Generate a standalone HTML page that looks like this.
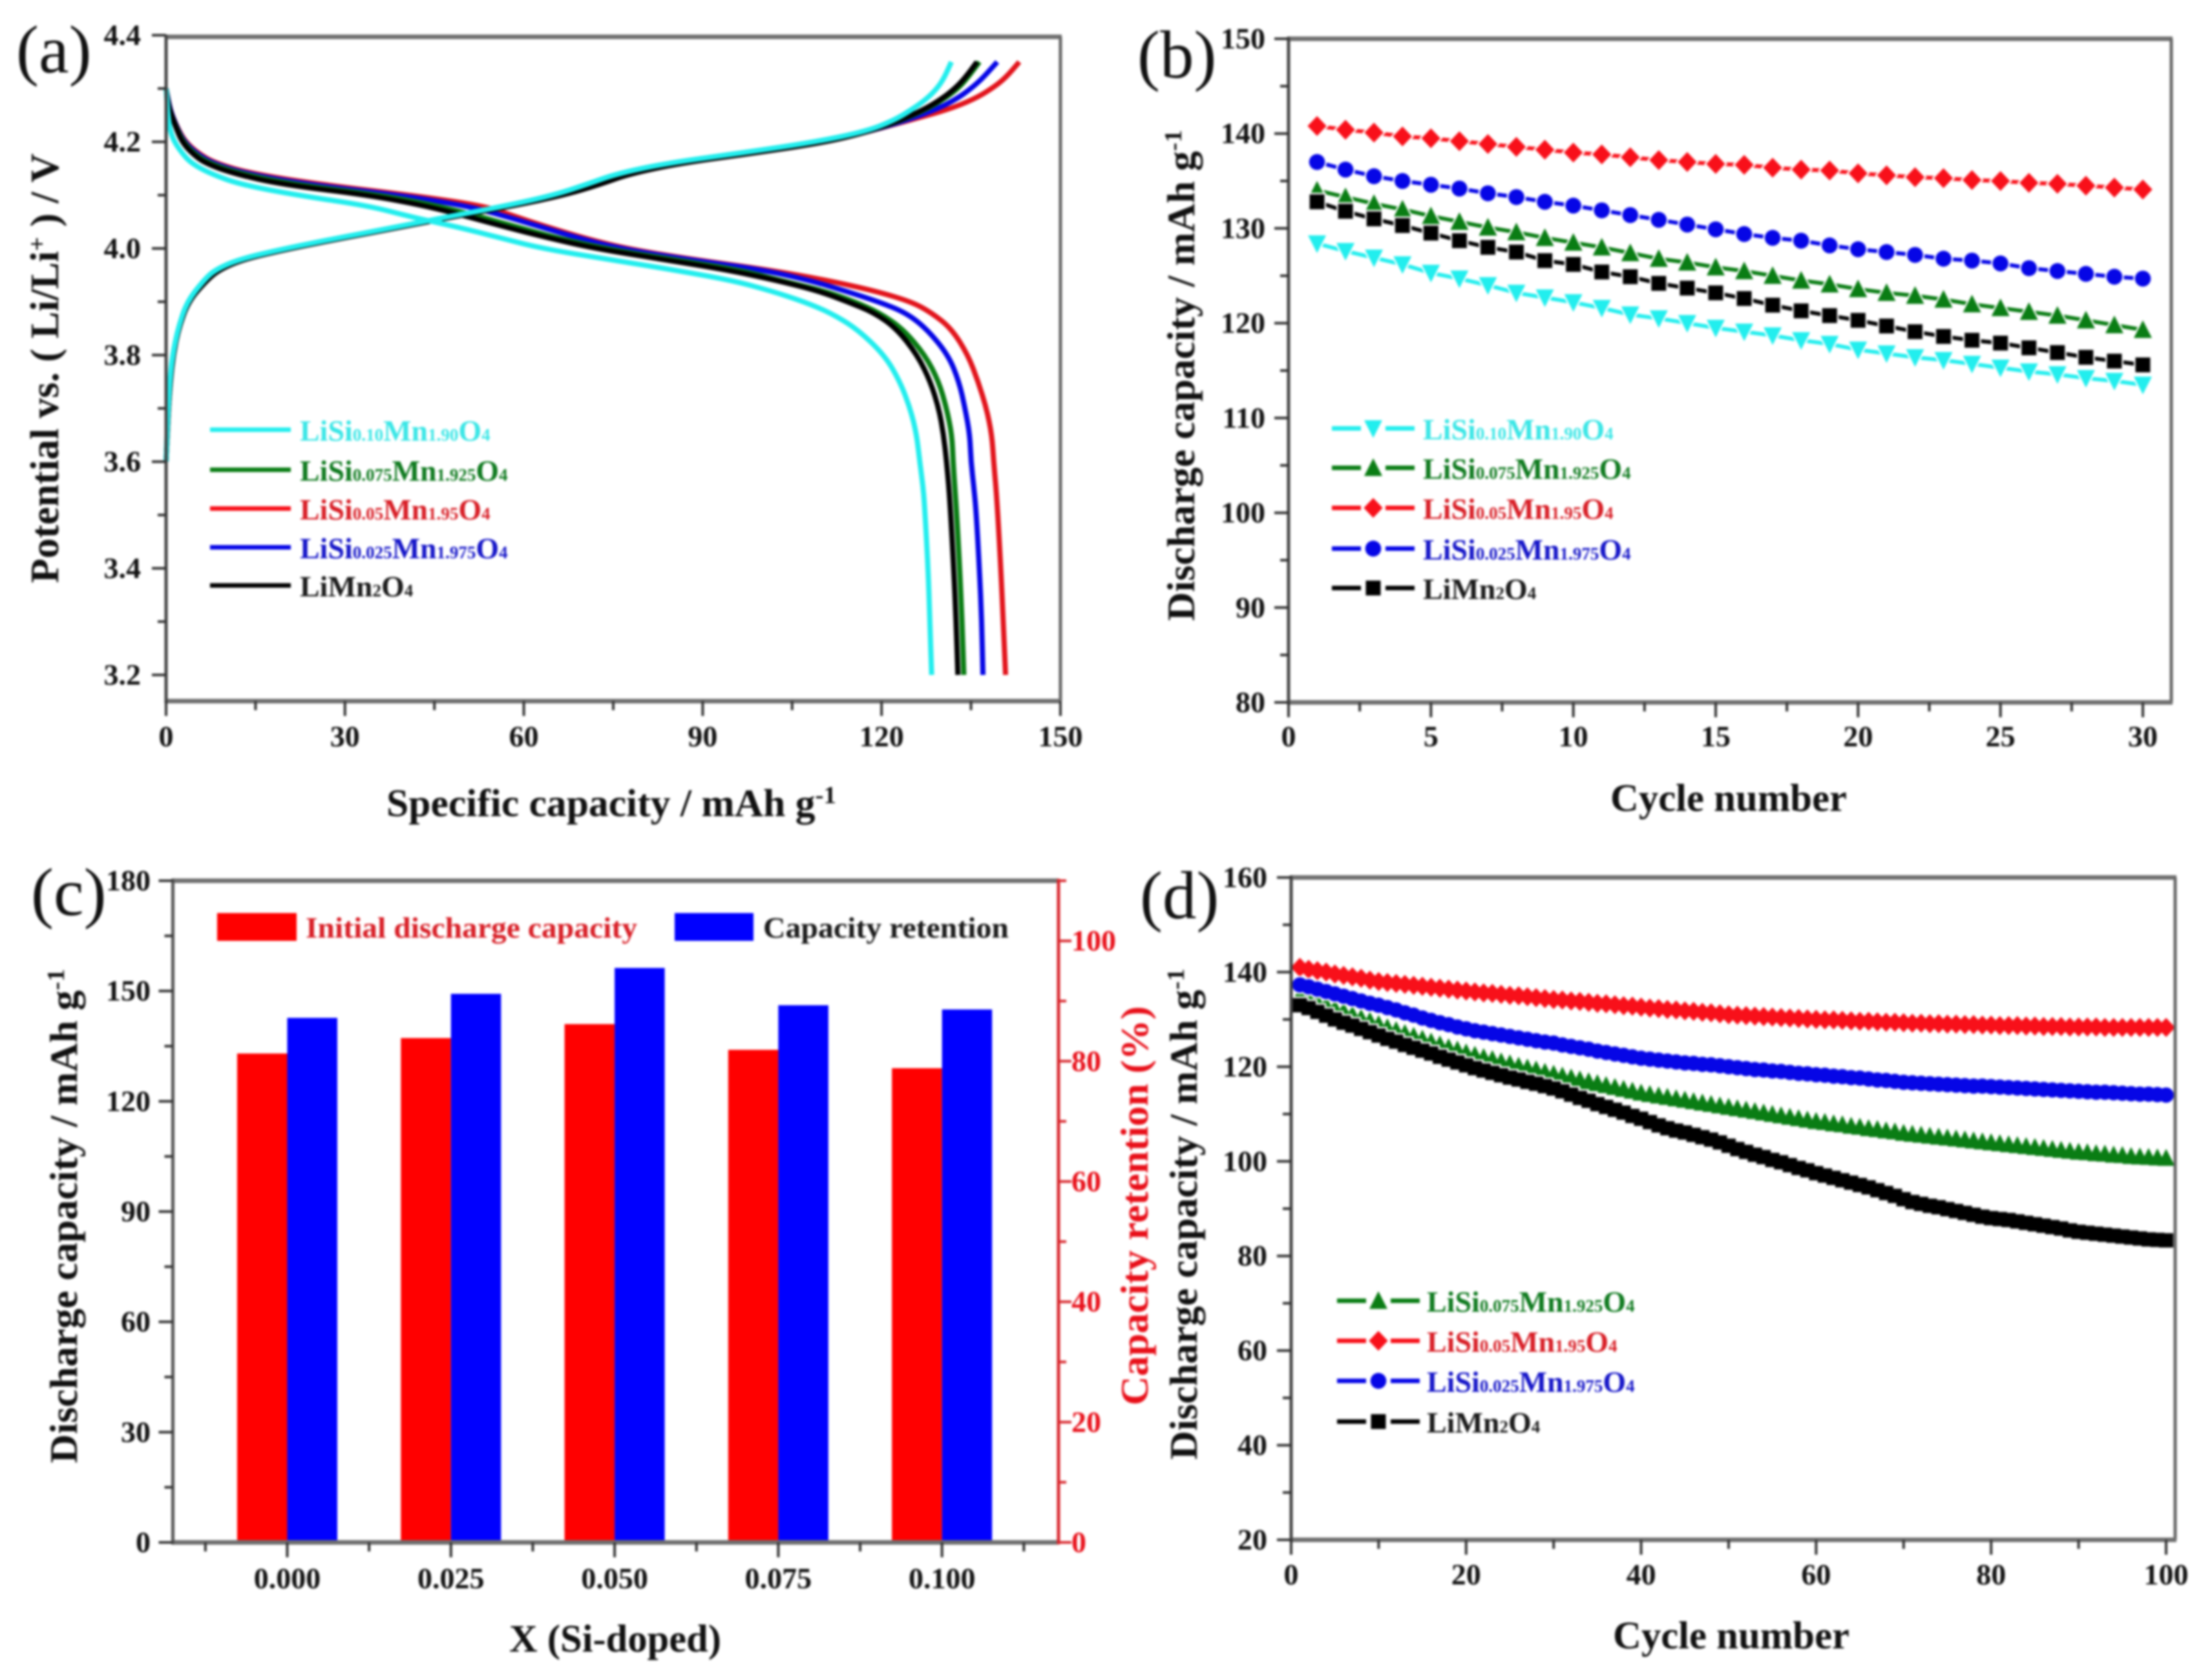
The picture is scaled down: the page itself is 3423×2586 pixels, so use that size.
<!DOCTYPE html>
<html lang="en">
<head>
<meta charset="utf-8">
<title>LiSixMn2-xO4 electrochemical performance</title>
<style>
html,body{margin:0;padding:0;background:#fff;width:3423px;height:2586px;overflow:hidden}
svg{display:block;filter:blur(1.8px)}
text{font-family:"Liberation Serif",serif;font-weight:700}
.lg{font-size:46px}
.ti{font-size:60px;fill:#111}
.pl{font-size:105px;font-weight:400;fill:#111}
</style>
</head>
<body>
<svg id="fig" xmlns="http://www.w3.org/2000/svg" width="3423" height="2586" viewBox="0 0 3423 2586">
<rect x="0" y="0" width="3423" height="2586" fill="#fff"/>

<g id="panelA"></g>
<g id="panelB"></g>
<g id="panelC"></g>
<g id="panelD"></g>

<text class="pl" x="25" y="112">(a)</text>
<text class="pl" x="1760" y="120">(b)</text>
<text class="pl" x="48" y="1416">(c)</text>
<text class="pl" x="1764" y="1421">(d)</text>

<text class="ti" x="946" y="1263" text-anchor="middle" textLength="696" lengthAdjust="spacingAndGlyphs">Specific capacity / mAh g<tspan font-size="38" dy="-20">-1</tspan></text>
<text class="ti" transform="translate(90,570) rotate(-90)" text-anchor="middle" textLength="665" lengthAdjust="spacingAndGlyphs" style="font-size:62px">Potential vs. ( Li/Li<tspan font-size="38" dy="-20">+</tspan><tspan dy="20"> ) / V</tspan></text>

<text class="ti" x="2675" y="1255" text-anchor="middle" textLength="366" lengthAdjust="spacingAndGlyphs">Cycle number</text>
<text class="ti" transform="translate(1848,581) rotate(-90)" text-anchor="middle" textLength="760" lengthAdjust="spacingAndGlyphs">Discharge capacity / mAh g<tspan font-size="38" dy="-20">-1</tspan></text>

<text class="ti" x="952" y="2556" text-anchor="middle" textLength="328" lengthAdjust="spacingAndGlyphs">X (Si-doped)</text>
<text class="ti" transform="translate(119,1882) rotate(-90)" text-anchor="middle" textLength="765" lengthAdjust="spacingAndGlyphs">Discharge capacity / mAh g<tspan font-size="38" dy="-20">-1</tspan></text>
<text class="ti" transform="translate(1776,1866) rotate(-90)" text-anchor="middle" textLength="618" lengthAdjust="spacingAndGlyphs" style="fill:#e8101a">Capacity retention (%)</text>

<text class="ti" x="2679" y="2551" text-anchor="middle" textLength="366" lengthAdjust="spacingAndGlyphs">Cycle number</text>
<text class="ti" transform="translate(1852,1879) rotate(-90)" text-anchor="middle" textLength="760" lengthAdjust="spacingAndGlyphs">Discharge capacity / mAh g<tspan font-size="38" dy="-20">-1</tspan></text>

<g>
<text class="lg" x="464" y="682" fill="#3ae6e6">LiSi<tspan font-size="27">0.10</tspan>Mn<tspan font-size="27">1.90</tspan>O<tspan font-size="27">4</tspan></text>
<text class="lg" x="464" y="744" fill="#0f7a1f">LiSi<tspan font-size="27">0.075</tspan>Mn<tspan font-size="27">1.925</tspan>O<tspan font-size="27">4</tspan></text>
<text class="lg" x="464" y="804" fill="#d81e26">LiSi<tspan font-size="27">0.05</tspan>Mn<tspan font-size="27">1.95</tspan>O<tspan font-size="27">4</tspan></text>
<text class="lg" x="464" y="864" fill="#1616c8">LiSi<tspan font-size="27">0.025</tspan>Mn<tspan font-size="27">1.975</tspan>O<tspan font-size="27">4</tspan></text>
<text class="lg" x="464" y="923" fill="#1a1a1a">LiMn<tspan font-size="27">2</tspan>O<tspan font-size="27">4</tspan></text>
</g>
<g>
<text class="lg" x="2202" y="680" fill="#3ae6e6">LiSi<tspan font-size="27">0.10</tspan>Mn<tspan font-size="27">1.90</tspan>O<tspan font-size="27">4</tspan></text>
<text class="lg" x="2202" y="741" fill="#0f7a1f">LiSi<tspan font-size="27">0.075</tspan>Mn<tspan font-size="27">1.925</tspan>O<tspan font-size="27">4</tspan></text>
<text class="lg" x="2202" y="803" fill="#d81e26">LiSi<tspan font-size="27">0.05</tspan>Mn<tspan font-size="27">1.95</tspan>O<tspan font-size="27">4</tspan></text>
<text class="lg" x="2202" y="866" fill="#1616c8">LiSi<tspan font-size="27">0.025</tspan>Mn<tspan font-size="27">1.975</tspan>O<tspan font-size="27">4</tspan></text>
<text class="lg" x="2202" y="927" fill="#1a1a1a">LiMn<tspan font-size="27">2</tspan>O<tspan font-size="27">4</tspan></text>
</g>
<g>
<rect x="336" y="1413" width="123" height="43" fill="#ff0000"/>
<rect x="1044" y="1413" width="122" height="43" fill="#0000ff"/>
<text class="lg" x="473" y="1451" fill="#d81e26" textLength="513" lengthAdjust="spacingAndGlyphs">Initial discharge capacity</text>
<text class="lg" x="1181" y="1451" fill="#1a1a1a" textLength="380" lengthAdjust="spacingAndGlyphs">Capacity retention</text>
</g>
<g>
<text class="lg" x="2208" y="2030" fill="#0f7a1f">LiSi<tspan font-size="27">0.075</tspan>Mn<tspan font-size="27">1.925</tspan>O<tspan font-size="27">4</tspan></text>
<text class="lg" x="2208" y="2092" fill="#d81e26">LiSi<tspan font-size="27">0.05</tspan>Mn<tspan font-size="27">1.95</tspan>O<tspan font-size="27">4</tspan></text>
<text class="lg" x="2208" y="2154" fill="#1616c8">LiSi<tspan font-size="27">0.025</tspan>Mn<tspan font-size="27">1.975</tspan>O<tspan font-size="27">4</tspan></text>
<text class="lg" x="2208" y="2217" fill="#1a1a1a">LiMn<tspan font-size="27">2</tspan>O<tspan font-size="27">4</tspan></text>
</g>
</svg>

<script>
/* ---------- Panel (a): voltage profiles ---------- */
const dischargeVoltage = [4.30,4.27,4.25,4.22,4.20,4.18,4.16,4.14,4.12,4.10,4.08,4.06,4.04,4.02,4.00,3.98,3.96,3.94,3.92,3.90,3.88,3.85,3.80,3.75,3.70,3.65,3.60,3.55,3.50,3.40,3.30,3.20];
const dischargeQBlack = [0,0.4,0.9,1.9,2.7,4.2,6.5,11.5,19.5,34,43.5,50.5,57,64,72,83,94,102.5,109.5,114.3,118.7,122.5,126,128.2,129.6,130.4,130.9,131.3,131.6,132.1,132.5,132.8];
const dischargeQBlue = [0,0.5,1,2.1,3.1,4.9,7.7,13.5,24,39,50.5,57,63,69,76,87,100,108,114,119.5,124,127.5,131.2,133,134,134.8,135,135.5,135.9,136.4,136.8,137];
const dischargeQRed = [0,0.5,1,2.2,3.3,5.2,8.2,14.5,26,41,53.4,58.5,64,70,77,88,101,111,119,125,128.3,131.7,134.5,136.2,137.6,138.5,138.8,139.2,139.5,140,140.4,140.8];
const dischargeQGreen = [0,0.4,0.9,2,2.9,4.5,7.1,12.5,21.5,36,45.5,52.5,59,65.5,73.5,84.5,96,103,110.5,115.5,119.5,123.5,127.3,129.6,130.9,131.8,132,132.3,132.6,133.1,133.5,133.8];
const dischargeQCyan = [0,0.2,0.3,0.7,1.4,2.6,4.2,7.5,12.5,22,34,40.8,49,56,63,74,85,95,101.6,107,111.3,115.8,120.5,123.1,124.8,125.9,126.4,127,127.3,127.8,128.1,128.4];

const chargeVoltage = [3.60,3.65,3.70,3.75,3.80,3.85,3.90,3.94,3.96,3.98,4.00,4.02,4.04,4.06,4.08,4.10,4.12,4.14,4.16,4.18,4.20,4.22,4.24,4.26,4.28,4.30,4.32,4.35];
const chargeQBlack = [0,0.2,0.4,0.7,1.2,2.1,3.7,6.8,8.9,13,20.8,29.8,39.3,48.4,58.2,66.7,72.7,77.7,86.2,99.2,111,118,123,127,130,132.3,134,136];
const chargeQBlue = [0,0.2,0.4,0.7,1.2,2.1,3.7,6.7,8.8,12.9,20.7,29.7,39.2,48.3,58,66.6,72.6,77.6,86.1,99.1,110.9,118,124,129,132.5,135,137,139.4];
const chargeQRed = [0,0.2,0.4,0.7,1.2,2.1,3.7,6.7,8.8,12.9,20.7,29.7,39.2,48.3,58,66.6,72.6,77.6,86.1,99.1,110.9,118,124.5,131,135.5,138.5,140.8,143.1];
const chargeQGreen = [0,0.2,0.4,0.7,1.2,2.1,3.7,6.7,8.8,12.9,20.7,29.7,39.2,48.3,58,66.6,72.6,77.6,86.1,99.1,110.9,118,123.2,127.3,130.4,132.8,134.4,136.4];
const chargeQCyan = [0,0.15,0.35,0.6,1.1,2,3.5,6.3,8.2,12.3,20,29,38.5,47.5,57,65,70.5,75.5,84,97,109,117.5,122,125,127.5,129.3,130.5,131.7];

/* ---------- Panel (b): 30 cycles ---------- */
const cyclesB = [1,2,3,4,5,6,7,8,9,10,11,12,13,14,15,16,17,18,19,20,21,22,23,24,25,26,27,28,29,30];
const capBCyan = [128.4,127.6,126.9,126.2,125.3,124.7,124,123.2,122.7,122.2,121.6,120.9,120.5,120,119.5,119.1,118.7,118.2,117.8,117.2,116.8,116.4,116.1,115.7,115.3,114.9,114.6,114.2,113.9,113.5];
const capBGreen = [134,133.3,132.6,132,131.3,130.7,130.1,129.6,129,128.5,128,127.4,126.8,126.4,125.9,125.5,125,124.5,124.1,123.6,123.2,122.9,122.5,122,121.6,121.2,120.8,120.3,119.8,119.3];
const capBRed = [140.8,140.4,140.1,139.7,139.5,139.2,138.9,138.6,138.3,138,137.8,137.5,137.2,137,136.8,136.7,136.4,136.2,136.1,135.8,135.6,135.4,135.3,135.1,135,134.8,134.7,134.5,134.3,134.1];
const capBBlue = [137,136.2,135.5,135,134.6,134.2,133.7,133.3,132.8,132.4,131.9,131.4,130.9,130.4,129.9,129.4,129,128.7,128.2,127.8,127.5,127.2,126.8,126.6,126.3,125.8,125.5,125.2,124.9,124.7];
const capBBlack = [132.8,131.8,131,130.3,129.5,128.7,128,127.5,126.6,126.2,125.4,124.9,124.2,123.7,123.2,122.6,121.9,121.3,120.8,120.3,119.7,119.1,118.6,118.2,117.9,117.4,116.9,116.4,116,115.6];

/* ---------- Panel (c): bars ---------- */
const categoriesC = ["0.000","0.025","0.050","0.075","0.100"];
const categoryValuesC = [0,0.025,0.05,0.075,0.1];
const initialCapacity = [133,137.2,141,134,129];
const capacityRetention = [87.2,91.2,95.5,89.3,88.6];

/* ---------- Panel (d): 100 cycles ---------- */
const capDBlack = [133,132.4,131.6,130.8,130.0,129.3,128.7,128.0,127.3,126.6,
125.9,125.3,124.6,124.0,123.4,122.8,122.1,121.5,120.9,120.3,
119.7,119.2,118.7,118.2,117.7,117.3,116.8,116.4,115.9,115.4,
114.8,114.1,113.4,112.8,112.1,111.5,110.9,110.3,109.6,109.0,
108.3,107.6,107.0,106.5,106.1,105.6,105.1,104.6,104.0,103.3,
102.6,102.0,101.4,100.9,100.3,99.8,99.2,98.6,98.1,97.5,
97.0,96.5,96.0,95.5,95.0,94.5,93.9,93.3,92.7,92.0,
91.4,91.0,90.6,90.3,89.9,89.5,89.1,88.7,88.3,88.0,
87.8,87.6,87.3,87.0,86.7,86.4,86.1,85.8,85.4,85.1,
84.9,84.7,84.5,84.3,84.1,83.9,83.7,83.5,83.4,83.3];
const capDGreen = [135,134.4,133.7,133.0,132.3,131.7,131.0,130.3,129.7,129.0,
128.3,127.7,127.1,126.5,125.9,125.3,124.7,124.1,123.6,123.0,
122.5,122.0,121.6,121.1,120.7,120.2,119.8,119.4,118.9,118.5,
118.1,117.7,117.3,116.9,116.5,116.1,115.7,115.3,114.9,114.5,
114.2,113.9,113.6,113.3,113.0,112.7,112.4,112.1,111.8,111.5,
111.2,110.9,110.6,110.3,110.0,109.7,109.4,109.1,108.8,108.5,
108.3,108.0,107.8,107.5,107.3,107.0,106.8,106.5,106.3,106.0,
105.8,105.6,105.4,105.2,105.0,104.8,104.6,104.4,104.2,104.0,
103.8,103.6,103.4,103.2,103.0,102.8,102.6,102.4,102.2,102.0,
101.9,101.7,101.6,101.4,101.3,101.1,101.0,100.9,100.8,100.7];
const capDBlue = [137.3,136.9,136.4,135.9,135.4,134.9,134.4,133.9,133.4,133.0,
132.5,132.0,131.4,130.9,130.3,129.8,129.3,128.9,128.4,128.0,
127.6,127.3,127.0,126.7,126.4,126.1,125.8,125.5,125.2,125.0,
124.6,124.3,124.0,123.7,123.3,123.0,122.7,122.4,122.1,121.8,
121.6,121.4,121.2,121.0,120.8,120.7,120.5,120.4,120.2,120.0,
119.8,119.6,119.4,119.3,119.1,119.0,118.8,118.6,118.5,118.3,
118.2,118.0,117.9,117.7,117.6,117.4,117.2,117.1,116.9,116.7,
116.6,116.5,116.4,116.3,116.2,116.1,116.0,115.9,115.9,115.8,
115.7,115.6,115.5,115.4,115.3,115.2,115.1,115.0,114.9,114.8,
114.7,114.6,114.6,114.5,114.4,114.3,114.2,114.2,114.1,114.0];
const capDRed = [141,140.6,140.3,140.0,139.6,139.3,139.0,138.7,138.3,138.0,
137.8,137.6,137.4,137.2,137.0,136.8,136.6,136.4,136.2,136.0,
135.8,135.6,135.5,135.3,135.1,135.0,134.8,134.6,134.4,134.2,
134.1,133.9,133.8,133.6,133.4,133.3,133.1,132.9,132.8,132.6,
132.4,132.3,132.1,132.0,131.8,131.7,131.5,131.4,131.2,131.0,
130.9,130.8,130.7,130.6,130.5,130.4,130.3,130.2,130.1,130.0,
129.9,129.9,129.8,129.7,129.6,129.6,129.5,129.4,129.4,129.3,
129.2,129.2,129.1,129.1,129.0,129.0,128.9,128.9,128.8,128.8,
128.7,128.7,128.7,128.6,128.6,128.5,128.5,128.5,128.4,128.4,
128.4,128.4,128.3,128.3,128.3,128.3,128.3,128.3,128.3,128.3];

/* ---------- Tick labels ---------- */
const ticksAX = [0,30,60,90,120,150];
const ticksAY = [3.2,3.4,3.6,3.8,4.0,4.2,4.4];
const ticksBX = [0,5,10,15,20,25,30];
const ticksBY = [80,90,100,110,120,130,140,150];
const ticksCY = [0,30,60,90,120,150,180];
const ticksCR = [0,20,40,60,80,100];
const ticksDX = [0,20,40,60,80,100];
const ticksDY = [20,40,60,80,100,120,140,160];

/* ---------- Drawing ---------- */
const NS = 'http://www.w3.org/2000/svg';
function mk(tag, attrs, parent) {
  const el = document.createElementNS(NS, tag);
  for (const k in attrs) el.setAttribute(k, attrs[k]);
  parent.appendChild(el);
  return el;
}
function scale(d0, d1, r0, r1) { return v => r0 + (v - d0) * (r1 - r0) / (d1 - d0); }

function frame(g, L, T, R, B) {
  const top = mk('line', {x1:L-2,y1:T,x2:R+2,y2:T,stroke:'#6f6f6f','stroke-width':7}, g);
  
  
  const right = mk('line', {x1:R,y1:T,x2:R,y2:B,stroke:'#666','stroke-width':5}, g);
  
  
  const bottom = mk('line', {x1:L-2,y1:B,x2:R+2,y2:B,stroke:'#6f6f6f','stroke-width':7}, g);
  
  
  const left = mk('line', {x1:L,y1:T-3,x2:L,y2:B+3,stroke:'#444','stroke-width':5}, g);
  
  
}

function xTicks(g, sx, B, labels, minors, labelY, fmt) {
  labels.forEach(v => {
    const t = mk('line', {x1:sx(v),y1:B,x2:sx(v),y2:B+23,stroke:'#333','stroke-width':4}, g);
    
    
    const lb = mk('text', {x:sx(v),y:labelY,'text-anchor':'middle','font-size':46,fill:'#111'}, g);
    
    
    lb.textContent = fmt ? fmt(v) : v;
  });
  minors.forEach(v => {
    const t = mk('line', {x1:sx(v),y1:B,x2:sx(v),y2:B+14,stroke:'#333','stroke-width':4}, g);
    
    
  });
}
function yTicks(g, sy, L, labels, minors, anchorX, fmt) {
  labels.forEach(v => {
    const t = mk('line', {x1:L-22,y1:sy(v),x2:L,y2:sy(v),stroke:'#333','stroke-width':4}, g);
    
    
    const lb = mk('text', {x:anchorX,y:sy(v)+15,'text-anchor':'end','font-size':46,fill:'#111'}, g);
    
    
    lb.textContent = fmt ? fmt(v) : v;
  });
  minors.forEach(v => {
    const t = mk('line', {x1:L-13,y1:sy(v),x2:L,y2:sy(v),stroke:'#333','stroke-width':4}, g);
    
    
  });
}
function midpoints(arr) {
  const out = [];
  for (let i = 0; i < arr.length - 1; i++) out.push((arr[i] + arr[i + 1]) / 2);
  return out;
}

function polyPoints(xs, ys, sx, sy) { return xs.map((x, i) => sx(x).toFixed(1) + ',' + sy(ys[i]).toFixed(1)).join(' '); }

function smoothPath(xs, ys, sx, sy) {
  const p = xs.map((x, i) => [sx(x), sy(ys[i])]);
  let d = 'M' + p[0][0].toFixed(1) + ' ' + p[0][1].toFixed(1) + ' L' + ((p[0][0]+p[1][0])/2).toFixed(1) + ' ' + ((p[0][1]+p[1][1])/2).toFixed(1);
  for (let i = 1; i < p.length - 1; i++) {
    const mx = (p[i][0] + p[i+1][0]) / 2, my = (p[i][1] + p[i+1][1]) / 2;
    d += ' Q' + p[i][0].toFixed(1) + ' ' + p[i][1].toFixed(1) + ' ' + mx.toFixed(1) + ' ' + my.toFixed(1);
  }
  d += ' L' + p[p.length-1][0].toFixed(1) + ' ' + p[p.length-1][1].toFixed(1);
  return d;
}

function marker(g, kind, cx, cy, r, color) {
  let el;
  if (kind === 'circle') el = mk('circle', {cx:cx,cy:cy,r:r*0.88,fill:color}, g);
  else if (kind === 'square') el = mk('rect', {x:cx-r*0.82,y:cy-r*0.82,width:r*1.64,height:r*1.64,fill:color}, g);
  else {
    let pts;
    if (kind === 'diamond') pts = [[0,-r*1.1],[r*1.05,0],[0,r*1.1],[-r*1.05,0]];
    if (kind === 'up') pts = [[0,-r*1.05],[r,r*0.9],[-r,r*0.9]];
    if (kind === 'down') pts = [[0,r*1.05],[r,-r*0.9],[-r,-r*0.9]];
    el = mk('polygon', {points:pts.map(p => (cx+p[0]).toFixed(1)+','+(cy+p[1]).toFixed(1)).join(' '),fill:color}, g);
  }
  return el;
}

function legendSample(g, x0, x1, y, kind, color) {
  const mid = (x0 + x1) / 2;
  if (kind) {
    const a = mk('line', {x1:x0,y1:y,x2:mid-19,y2:y,stroke:color,'stroke-width':7}, g);
    
    
    const b = mk('line', {x1:mid+19,y1:y,x2:x1,y2:y,stroke:color,'stroke-width':7}, g);
    
    
    const m = marker(g, kind, mid, y, 14, color);
    
    
  } else {
    const a = mk('line', {x1:x0,y1:y,x2:x1,y2:y,stroke:color,'stroke-width':7}, g);
    
    
  }
}

function drawSeries(g, s, xs, sx, sy, r) {
  const pl = mk('polyline', {points:polyPoints(xs, s[2], sx, sy),fill:'none',stroke:s[1],'stroke-width':6}, g);
  
  
  xs.forEach((c, i) => {
    const h = marker(g, s[3], sx(c), sy(s[2][i]), r, '#fff');
    h.setAttribute('stroke', '#fff');
    h.setAttribute('stroke-width', 5);
    
    
  });
  xs.forEach((c, i) => {
    const m = marker(g, s[3], sx(c), sy(s[2][i]), r, s[1]);
    
    
  });
}

const CYAN = '#22eeee', GREEN = '#0a7d14', RED = '#f8101a', BLUE = '#0606e6', BLACK = '#000';

/* Panel A */
(function () {
  const g = document.getElementById('panelA');
  const L = 257, R = 1641, T = 57, B = 1085;
  const sx = scale(0, 150, L, 1641);
  const sy = scale(4.0, 4.2, 384.5, 219.5);
  const curves = [
    ['red', '#e2141c', dischargeQRed, chargeQRed],
    ['blue', BLUE, dischargeQBlue, chargeQBlue],
    ['green', GREEN, dischargeQGreen, chargeQGreen],
    ['black', BLACK, dischargeQBlack, chargeQBlack],
    ['cyan', CYAN, dischargeQCyan, chargeQCyan]
  ];
  curves.forEach(c => {
    const d = mk('path', {d:smoothPath(c[2], dischargeVoltage, sx, sy),fill:'none',stroke:c[1],'stroke-width':8,'stroke-linejoin':'round'}, g);
    
    
    const q = mk('path', {d:smoothPath(c[3], chargeVoltage, sx, sy),fill:'none',stroke:c[1],'stroke-width':8,'stroke-linejoin':'round'}, g);
    
    
  });
  frame(g, L, T, R, B);
  xTicks(g, sx, B, ticksAX, midpoints(ticksAX), 1155);
  yTicks(g, sy, L, ticksAY, midpoints(ticksAY), 218, v => v.toFixed(1));
  const lg = [[665,CYAN],[727,GREEN],[787,RED],[847,BLUE],[906,BLACK]];
  lg.forEach(e => legendSample(g, 325, 450, e[0], null, e[1]));
})();

/* Panel B */
(function () {
  const g = document.getElementById('panelB');
  const L = 1994, R = 3360, T = 60, B = 1087;
  const sx = scale(0, 30, L, 3316);
  const sy = scale(80, 150, B, T);
  const series = [
    ['cyan', CYAN, capBCyan, 'down'],
    ['green', GREEN, capBGreen, 'up'],
    ['red', RED, capBRed, 'diamond'],
    ['blue', BLUE, capBBlue, 'circle'],
    ['black', BLACK, capBBlack, 'square']
  ];
  series.forEach(s => drawSeries(g, s, cyclesB, sx, sy, 14));
  frame(g, L, T, R, B);
  xTicks(g, sx, B, ticksBX, midpoints(ticksBX), 1155);
  yTicks(g, sy, L, ticksBY, midpoints(ticksBY), 1958);
  const lg = [[663,CYAN,'down'],[724,GREEN,'up'],[786,RED,'diamond'],[849,BLUE,'circle'],[910,BLACK,'square']];
  lg.forEach(e => legendSample(g, 2061, 2189, e[0], e[2], e[1]));
})();

/* Panel C */
(function () {
  const g = document.getElementById('panelC');
  const L = 267.5, R = 1638, T = 1363, B = 2387;
  const sx = scale(0, 0.025, 444.5, 697.8);
  const sy = scale(0, 180, B, T);
  const syR = scale(0, 110, B, T);
  const barW = 77.5;
  categoryValuesC.forEach((v, i) => {
    const r = mk('rect', {x:sx(v)-barW,y:sy(initialCapacity[i]),width:barW,height:B-sy(initialCapacity[i]),fill:'#ff0000'}, g);
    
    
    const b = mk('rect', {x:sx(v),y:syR(capacityRetention[i]),width:barW,height:B-syR(capacityRetention[i]),fill:'#0000ff'}, g);
    
    
  });
  const top = mk('line', {x1:L-2,y1:T,x2:R,y2:T,stroke:'#6f6f6f','stroke-width':7}, g);
  
  
  const bottom = mk('line', {x1:L-2,y1:B,x2:R,y2:B,stroke:'#6f6f6f','stroke-width':7}, g);
  
  
  const left = mk('line', {x1:L,y1:T-3,x2:L,y2:B+3,stroke:'#555','stroke-width':5}, g);
  
  
  const right = mk('line', {x1:R,y1:T-3,x2:R,y2:B+3,stroke:'#d8262c','stroke-width':5}, g);
  
  
  xTicks(g, sx, B, categoryValuesC, [-0.0125,0.0125,0.0375,0.0625,0.0875,0.1125], 2458, v => categoriesC[categoryValuesC.indexOf(v)]);
  yTicks(g, sy, L, ticksCY, midpoints(ticksCY), 233);
  ticksCR.forEach(v => {
    const t = mk('line', {x1:R,y1:syR(v),x2:R+20,y2:syR(v),stroke:'#d8262c','stroke-width':4}, g);
    
    
    const lb = mk('text', {x:R+20,y:syR(v)+15,'font-size':46,fill:'#e8101a'}, g);
    
    
    lb.textContent = v;
  });
  midpoints(ticksCR).concat([110]).forEach(v => {
    const t = mk('line', {x1:R,y1:syR(v),x2:R+12,y2:syR(v),stroke:'#d8262c','stroke-width':4}, g);
    
    
  });
})();

/* Panel D */
(function () {
  const g = document.getElementById('panelD');
  const L = 1998, R = 3366, T = 1358, B = 2383;
  const sx = scale(0, 100, L, 3352);
  const sy = scale(20, 160, B, T);
  const cycles = capDRed.map((_, i) => i + 1);
  const series = [
    ['green', GREEN, capDGreen, 'up'],
    ['red', RED, capDRed, 'diamond'],
    ['blue', BLUE, capDBlue, 'circle'],
    ['black', BLACK, capDBlack, 'square']
  ];
  series.forEach(s => drawSeries(g, s, cycles, sx, sy, 13.5));
  frame(g, L, T, R, B);
  xTicks(g, sx, B, ticksDX, midpoints(ticksDX), 2452);
  yTicks(g, sy, L, ticksDY, midpoints(ticksDY), 1961);
  const lg = [[2013,GREEN,'up'],[2075,RED,'diamond'],[2137,BLUE,'circle'],[2200,BLACK,'square']];
  lg.forEach(e => legendSample(g, 2069, 2197, e[0], e[2], e[1]));
})();
</script>
</body>
</html>
